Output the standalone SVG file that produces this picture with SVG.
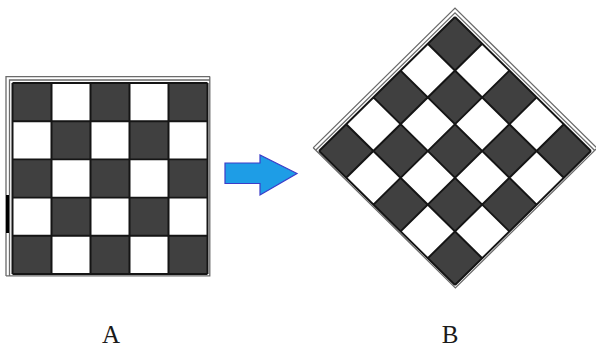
<svg xmlns="http://www.w3.org/2000/svg" xmlns:xlink="http://www.w3.org/1999/xlink" width="596" height="349" viewBox="0 0 596 349">
  <style>
    .dark { fill: #404040; }
    .grid { fill: none; stroke: #151515; stroke-width: 2; }
    .frame { fill: none; stroke: #6a6a6a; stroke-width: 1.3; }
    .lbl { font-family: "Liberation Serif", "Times New Roman", serif; font-size: 25px; fill: #1a1a1a; text-anchor: middle; }
    .arrow { fill: #1e9de6; stroke: #3c3cc8; stroke-width: 1.2; }
  </style>
  <defs>
    <g id="board">
      <rect x="-97.5" y="-97.5" width="195" height="195" fill="#ffffff"/>
      <g class="dark">
        <rect x="-97.5" y="-97.5" width="39" height="39"/>
        <rect x="-19.5" y="-97.5" width="39" height="39"/>
        <rect x="58.5" y="-97.5" width="39" height="39"/>
        <rect x="-58.5" y="-58.5" width="39" height="39"/>
        <rect x="19.5" y="-58.5" width="39" height="39"/>
        <rect x="-97.5" y="-19.5" width="39" height="39"/>
        <rect x="-19.5" y="-19.5" width="39" height="39"/>
        <rect x="58.5" y="-19.5" width="39" height="39"/>
        <rect x="-58.5" y="19.5" width="39" height="39"/>
        <rect x="19.5" y="19.5" width="39" height="39"/>
        <rect x="-97.5" y="58.5" width="39" height="39"/>
        <rect x="-19.5" y="58.5" width="39" height="39"/>
        <rect x="58.5" y="58.5" width="39" height="39"/>
      </g>
      <path class="grid" d="M-97.5,-97.5V97.5M-58.5,-97.5V97.5M-19.5,-97.5V97.5M19.5,-97.5V97.5M58.5,-97.5V97.5M97.5,-97.5V97.5M-97.5,-97.5H97.5M-97.5,-58.5H97.5M-97.5,-19.5H97.5M-97.5,19.5H97.5M-97.5,58.5H97.5M-97.5,97.5H97.5"/>
      <path class="frame" d="M-104,99.5V-104H100M-100.5,99V-100.5H99.5M99.8,-104V99.3H-104"/>
    </g>
  </defs>

  <g id="boardA">
    <use xlink:href="#board" href="#board" transform="translate(110 178.5) scale(1 0.98)"/>
    <rect x="6" y="195" width="3" height="38" fill="#000"/>
  </g>

  <g id="boardB">
    <use xlink:href="#board" href="#board" transform="translate(455 151) scale(0.986 0.972) rotate(45)"/>
  </g>

  <g id="connectors">
    <polygon class="arrow" points="225,163 260,163 260,155 297,173.5 260,195 260,183.5 225,183.5"/>
  </g>

  <g id="labelA"><text class="lbl" x="111" y="343">A</text></g>
  <g id="labelB"><text class="lbl" x="450" y="343">B</text></g>
</svg>
